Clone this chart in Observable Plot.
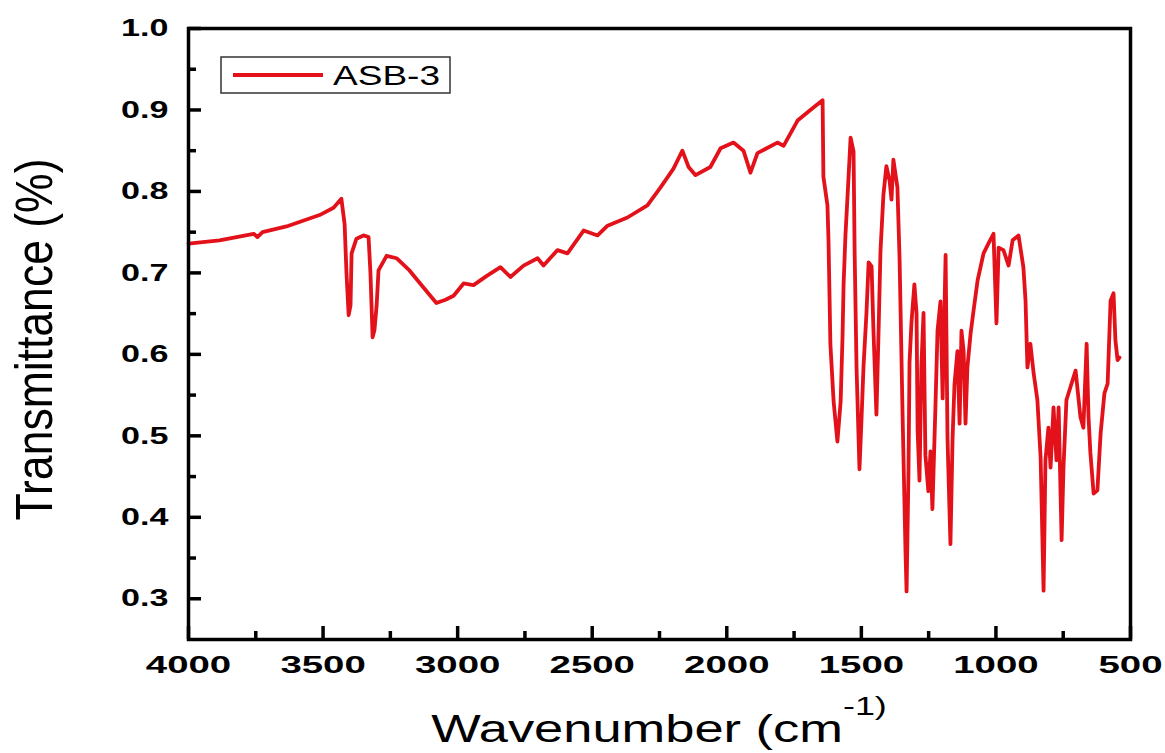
<!DOCTYPE html>
<html>
<head>
<meta charset="utf-8">
<script src="https://cdn.jsdelivr.net/npm/d3@7"></script>
<script src="https://cdn.jsdelivr.net/npm/@observablehq/plot@0.6"></script>
<style>
  html, body { margin: 0; padding: 0; background: #fff; }
  #chart svg { display: block; }
</style>
</head>
<body>
<div id="chart"></div>
<script>
// ---- data ----
const seriesName = "ASB-3";
const wavenumber = [
  4000,3885,3758,3744,3725,3636,3513,3461,3432,3420,3413,3405,3398,3394,3376,3350,3331,3324,3316,3309,
  3301,3294,3264,3227,3179,3127,3079,3045,3015,2978,2941,2893,2841,2804,2755,2703,2681,2629,2592,2532,
  2480,2443,2369,2295,2246,2198,2165,2142,2116,2061,2023,1975,1938,1912,1886,1812,1789,1737,1678,1644,
  1641,1626,1622,1615,1603,1589,1577,1570,1566,1559,1551,1540,1529,1525,1518,1507,1499,1492,1481,1473,
  1462,1455,1444,1436,1429,1418,1407,1395,1388,1381,1366,1358,1347,1336,1332,1325,1321,1314,1303,1295,
  1291,1284,1277,1269,1262,1251,1243,1236,1225,1217,1206,1198,1187,1184,1180,1169,1161,1154,1143,1135,
  1128,1120,1113,1106,1094,1083,1068,1046,1028,1009,998,990,972,953,938,916,898,890,883,872,
  860,846,834,823,816,805,797,786,775,767,756,749,738,723,704,686,675,663,656,649,
  637,623,611,597,585,574,563,556,548,541
];
const transmittance = [
  0.736,0.740,0.748,0.744,0.750,0.757,0.771,0.780,0.791,0.760,0.700,0.648,0.660,0.724,0.742,0.746,0.744,0.700,0.621,0.630,
  0.660,0.703,0.721,0.718,0.703,0.682,0.663,0.667,0.672,0.687,0.685,0.696,0.707,0.695,0.709,0.718,0.709,0.728,0.724,0.752,
  0.746,0.758,0.768,0.783,0.805,0.828,0.850,0.830,0.820,0.830,0.853,0.860,0.850,0.823,0.847,0.860,0.856,0.887,0.903,0.912,
  0.818,0.783,0.739,0.612,0.542,0.493,0.542,0.621,0.686,0.747,0.796,0.866,0.849,0.726,0.585,0.459,0.524,0.585,0.651,0.713,
  0.708,0.629,0.526,0.629,0.726,0.796,0.831,0.813,0.790,0.839,0.805,0.717,0.529,0.358,0.309,0.454,0.590,0.638,0.686,0.651,
  0.507,0.445,0.585,0.651,0.476,0.432,0.481,0.410,0.533,0.629,0.665,0.546,0.722,0.629,0.498,0.367,0.498,0.563,0.604,0.515,
  0.629,0.604,0.515,0.584,0.626,0.654,0.691,0.724,0.736,0.748,0.638,0.731,0.728,0.709,0.740,0.746,0.707,0.666,0.584,0.613,
  0.577,0.544,0.474,0.310,0.470,0.510,0.461,0.535,0.470,0.535,0.372,0.461,0.544,0.560,0.580,0.523,0.510,0.613,0.523,0.479,
  0.429,0.433,0.503,0.552,0.564,0.666,0.675,0.617,0.593,0.596
];
const xMajorTicks = [4000, 3500, 3000, 2500, 2000, 1500, 1000, 500];
const xMinorTicks = [3750, 3250, 2750, 2250, 1750, 1250, 750];
const yMajorTicks = [0.3, 0.4, 0.5, 0.6, 0.7, 0.8, 0.9, 1.0];
const yMinorTicks = [0.35, 0.45, 0.55, 0.65, 0.75, 0.85, 0.95];
const xDomain = [4000, 500];
const yDomain = [0.25, 1.0];
const xTitle = "Wavenumber (cm";
const xTitleSup = "-1)";
const yTitle = "Transmittance (%)";

// ---- build ----
const data = wavenumber.map((w, i) => ({w, t: transmittance[i]}));
const lineColor = "#e3121a";
const W = 1165, H = 753;
const mTop = 28, mBottom = 114, mLeft = 188, mRight = 35;
const innerW = W - mLeft - mRight, innerH = H - mTop - mBottom;
const majorLen = 13, minorLen = 8;
// tick lengths converted from pixels to data units, ticks point inward from the axes
const ySpan = yDomain[1] - yDomain[0];
const xSpan = xDomain[0] - xDomain[1];
const yLen = px => yDomain[0] + px / innerH * ySpan;
const xLen = px => xDomain[0] - px / innerW * xSpan;
const font = "'Liberation Sans', Arial, Helvetica, sans-serif";
const tickStyle = {stroke: "#000", strokeWidth: 3.5};

const chart = Plot.plot({
  width: W, height: H,
  marginTop: mTop, marginBottom: mBottom, marginLeft: mLeft, marginRight: mRight,
  style: {fontFamily: font, background: "#fff", color: "#000", overflow: "visible"},
  x: {domain: xDomain, label: null},
  y: {domain: yDomain, label: null},
  marks: [
    Plot.line(data, {x: "w", y: "t", stroke: lineColor, strokeWidth: 3.8, strokeLinejoin: "round", strokeLinecap: "round"}),
    // inward ticks
    Plot.ruleX(xMajorTicks, {x: d => d, y1: yDomain[0], y2: yLen(majorLen), ...tickStyle}),
    Plot.ruleX(xMinorTicks, {x: d => d, y1: yDomain[0], y2: yLen(minorLen), ...tickStyle}),
    Plot.ruleY(yMajorTicks, {y: d => d, x1: xDomain[0], x2: xLen(majorLen), ...tickStyle}),
    Plot.ruleY(yMinorTicks, {y: d => d, x1: xDomain[0], x2: xLen(minorLen), ...tickStyle}),
    // tick labels
    Plot.axisX(xMajorTicks, {anchor: "bottom", tickSize: 0, tickPadding: 16, fontSize: 24, fontWeight: "bold",
      tickFormat: d => String(d), label: null}),
    Plot.axisY(yMajorTicks, {anchor: "left", tickSize: 0, tickPadding: 20, fontSize: 24, fontWeight: "bold",
      tickFormat: d => d.toFixed(1), label: null}),
    Plot.frame({stroke: "#000", strokeWidth: 3.5})
  ]
});
document.getElementById("chart").appendChild(chart);

// stretch tick label glyphs horizontally (the reference image is horizontally stretched)
function stretch(sel, k) {
  sel.each(function() {
    const len = this.getComputedTextLength();
    this.setAttribute("textLength", (len * k).toFixed(1));
    this.setAttribute("lengthAdjust", "spacingAndGlyphs");
  });
}
const svg = d3.select(chart);
stretch(svg.selectAll('g[aria-label="x-axis tick label"] text'), 1.6);
stretch(svg.selectAll('g[aria-label="y-axis tick label"] text'), 1.42);

// axis titles
const cx = mLeft + innerW / 2;
const gx = svg.append("g").attr("transform", `translate(${cx},742) scale(1.38,1)`);
const tx = gx.append("text").attr("text-anchor", "middle").attr("font-family", font)
  .attr("font-size", 38).attr("fill", "#000");
tx.append("tspan").text(xTitle);
tx.append("tspan").attr("font-size", 26).attr("dy", -27).text(xTitleSup);

const cy = mTop + innerH / 2 + 6;
const gy = svg.append("g").attr("transform", `translate(52,${cy}) scale(1.25,1) rotate(-90)`);
gy.append("text").attr("text-anchor", "middle").attr("font-family", font)
  .attr("font-size", 42).attr("fill", "#000")
  .attr("textLength", 362).attr("lengthAdjust", "spacingAndGlyphs")
  .text(yTitle);

// legend
const lg = svg.append("g");
lg.append("rect").attr("x", 221).attr("y", 57).attr("width", 229).attr("height", 36)
  .attr("fill", "#fff").attr("stroke", "#333").attr("stroke-width", 1.5);
lg.append("line").attr("x1", 233).attr("x2", 323).attr("y1", 75).attr("y2", 75)
  .attr("stroke", lineColor).attr("stroke-width", 3.8);
lg.append("text").attr("x", 333).attr("y", 85).attr("text-anchor", "start").attr("font-family", font)
  .attr("font-size", 28).attr("fill", "#000").attr("textLength", 107).attr("lengthAdjust", "spacingAndGlyphs")
  .text(seriesName);
</script>
</body>
</html>
